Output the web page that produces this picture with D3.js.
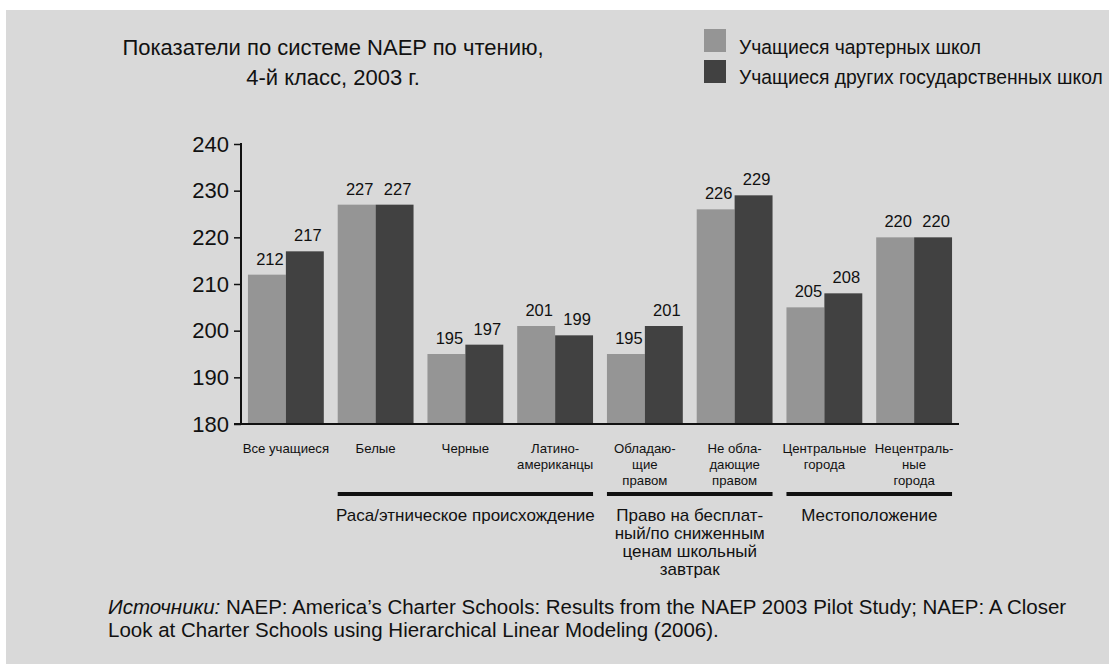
<!DOCTYPE html>
<html><head><meta charset="utf-8">
<script src="https://cdn.jsdelivr.net/npm/d3@7"></script>
<style>
body{margin:0;background:#fff;}
text{font-family:"Liberation Sans",Arial,Helvetica,sans-serif;fill:#111;}
</style></head>
<body><svg id="c" width="1109" height="664"></svg>
<script>
const categories = ["all","white","black","hispanic","eligible","noteligible","central","noncentral"];
const categoryLabels = [["Все учащиеся"],["Белые"],["Черные"],["Латино-","американцы"],["Обладаю-","щие","правом"],["Не обла-","дающие","правом"],["Центральные","города"],["Нецентраль-","ные","города"]];
const charterValues = [212,227,195,201,195,226,205,220];
const publicValues  = [217,227,197,199,201,229,208,220];
const seriesNames = ["Учащиеся чартерных школ","Учащиеся других государственных школ"];
const yTicks = [180,190,200,210,220,230,240];
const groups = [
  {label:["Раса/этническое происхождение"], from:"white", to:"hispanic"},
  {label:["Право на бесплат-","ный/по сниженным","ценам школьный","завтрак"], from:"eligible", to:"noteligible"},
  {label:["Местоположение"], from:"central", to:"noncentral"}
];
const titleLines = ["Показатели по системе NAEP по чтению,","4-й класс, 2003 г."];

const colors = ["#959595","#414141"];
const svg = d3.select("#c");
svg.append("rect").attr("x",6).attr("y",10).attr("width",1103).attr("height",654).attr("fill","#d9d9d9");

const x = d3.scaleBand().domain(categories).range([241,959]).paddingInner(0.155).paddingOuter(0.0775);
const xs = d3.scaleBand().domain([0,1]).range([0,x.bandwidth()]);
const y = d3.scaleLinear().domain([180,240]).range([424,144]);

// bars
const series = [charterValues, publicValues];
series.forEach((vals,si)=>{
  const g = svg.append("g");
  g.selectAll("rect").data(vals).join("rect")
    .attr("x",(d,i)=>x(categories[i])+xs(si))
    .attr("y",d=>y(d))
    .attr("width",xs.bandwidth())
    .attr("height",d=>y(180)-y(d))
    .attr("fill",colors[si]);
  g.selectAll("text").data(vals).join("text")
    .attr("x",(d,i)=>x(categories[i])+xs(si)+xs.bandwidth()/2+3)
    .attr("y",d=>y(d)-10)
    .attr("text-anchor","middle")
    .attr("font-size",16.5)
    .text(d=>d);
});

// y axis
const yAxis = d3.axisLeft(y).tickValues(yTicks).tickSize(7).tickPadding(5);
const ga = svg.append("g").attr("transform","translate(241,0)").call(yAxis);
ga.select(".domain").attr("stroke","#111").attr("stroke-width",2).attr("d","M0,143V424");
ga.selectAll(".tick line").attr("stroke","#111").attr("stroke-width",1.5);
ga.selectAll(".tick text").attr("font-size",22).attr("font-family","Liberation Sans, Arial, sans-serif").attr("fill","#111");

// x baseline
svg.append("line").attr("x1",234).attr("x2",959).attr("y1",y(180)).attr("y2",y(180)).attr("stroke","#111").attr("stroke-width",2);

// category labels
categories.forEach((c,i)=>{
  const t = svg.append("text").attr("text-anchor","middle").attr("font-size",13.2);
  categoryLabels[i].forEach((ln,j)=>{
    t.append("tspan").attr("x",x(c)+x.bandwidth()/2).attr("y",453+j*16).text(ln);
  });
});

// group lines and labels
groups.forEach(gr=>{
  const x1 = x(gr.from), x2 = x(gr.to)+x.bandwidth();
  svg.append("line").attr("x1",x1).attr("x2",x2).attr("y1",494).attr("y2",494).attr("stroke","#111").attr("stroke-width",4);
  const t = svg.append("text").attr("text-anchor","middle").attr("font-size",17);
  gr.label.forEach((ln,j)=>{
    t.append("tspan").attr("x",(x1+x2)/2).attr("y",521+j*18).text(ln);
  });
});

// title
const tt = svg.append("text").attr("text-anchor","middle").attr("font-size",22);
titleLines.forEach((ln,j)=>tt.append("tspan").attr("x",333).attr("y",55+j*30).text(ln));

// legend
seriesNames.forEach((n,i)=>{
  svg.append("rect").attr("x",704).attr("y",29+i*31).attr("width",22).attr("height",23).attr("fill",colors[i]);
  svg.append("text").attr("x",739).attr("y",54+i*30).attr("font-size",19.3).text(n);
});

// source
const src = svg.append("text").attr("font-size",20.5);
const l1 = src.append("tspan").attr("x",108).attr("y",614);
l1.append("tspan").attr("font-style","italic").text("Источники:");
l1.append("tspan").text(" NAEP: America’s Charter Schools: Results from the NAEP 2003 Pilot Study; NAEP: A Closer");
src.append("tspan").attr("x",108).attr("y",637).text("Look at Charter Schools using Hierarchical Linear Modeling (2006).");
</script></body></html>
